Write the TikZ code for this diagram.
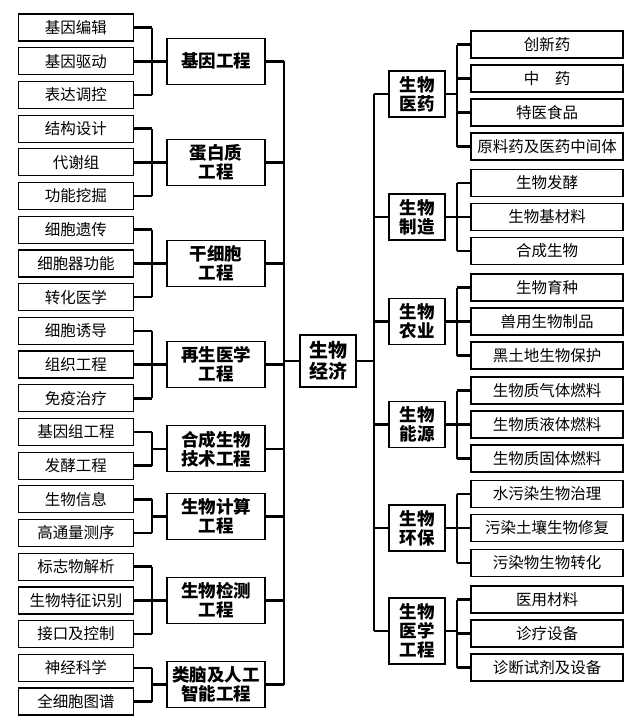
\documentclass[tikz,border=0pt]{standalone}
\usepackage{fontspec}
\setmainfont{Noto Sans CJK SC}
\begin{document}
\begin{tikzpicture}[x=1pt,y=-1pt,
 leafL/.style={draw,line width=1.2pt,minimum width=115pt,minimum height=27pt,inner sep=0pt,font=\fontsize{15.5}{17}\selectfont},
 leafR/.style={draw,line width=1.2pt,minimum width=152pt,minimum height=27pt,inner sep=0pt,font=\fontsize{15.5}{17}\selectfont},
 midL/.style={draw,line width=1.2pt,minimum width=98pt,minimum height=46pt,align=center,inner sep=1pt,font=\bfseries\fontsize{17.5}{19}\selectfont},
 midR/.style={draw,line width=1.2pt,minimum width=56pt,minimum height=46pt,align=center,inner sep=1pt,font=\bfseries\fontsize{17.5}{19}\selectfont},
 link/.style={line width=2.6pt}]
\fill[white] (0,0) rectangle (640,726);
\useasboundingbox (0,0) rectangle (640,726);
% center
\node[midR,minimum height=52pt,font=\bfseries\fontsize{19}{21}\selectfont] (c) at (328,361) {生物\\经济};
% left side
\def\lx{76}
\node[leafL] (l1) at (\lx,27.5) {基因编辑};
\node[leafL] (l2) at (\lx,61.2) {基因驱动};
\node[leafL] (l3) at (\lx,94.9) {表达调控};
\node[leafL] (l4) at (\lx,128.6) {结构设计};
\node[leafL] (l5) at (\lx,162.3) {代谢组};
\node[leafL] (l6) at (\lx,196) {功能挖掘};
\node[leafL] (l7) at (\lx,229.7) {细胞遗传};
\node[leafL] (l8) at (\lx,263.4) {细胞器功能};
\node[leafL] (l9) at (\lx,297.1) {转化医学};
\node[leafL] (l10) at (\lx,330.8) {细胞诱导};
\node[leafL] (l11) at (\lx,364.5) {组织工程};
\node[leafL] (l12) at (\lx,398.2) {免疫治疗};
\node[leafL] (l13) at (\lx,431.9) {基因组工程};
\node[leafL] (l14) at (\lx,465.6) {发酵工程};
\node[leafL] (l15) at (\lx,499.3) {生物信息};
\node[leafL] (l16) at (\lx,533) {高通量测序};
\node[leafL] (l17) at (\lx,566.7) {标志物解析};
\node[leafL] (l18) at (\lx,600.4) {生物特征识别};
\node[leafL] (l19) at (\lx,634.1) {接口及控制};
\node[leafL] (l20) at (\lx,667.8) {神经科学};
\node[leafL] (l21) at (\lx,701.5) {全细胞图谱};
\def\mx{216}
\node[midL] (m1) at (\mx,61.2) {基因工程};
\node[midL] (m2) at (\mx,162.3) {蛋白质\\工程};
\node[midL] (m3) at (\mx,263.4) {干细胞\\工程};
\node[midL] (m4) at (\mx,364.5) {再生医学\\工程};
\node[midL] (m5) at (\mx,448.8) {合成生物\\技术工程};
\node[midL] (m6) at (\mx,516.2) {生物计算\\工程};
\node[midL] (m7) at (\mx,600.4) {生物检测\\工程};
\node[midL] (m8) at (\mx,684.7) {类脑及人工\\智能工程};
\foreach \m/\a/\b in {m1/1/3,m2/4/6,m3/7/9,m4/10/12,m5/13/14,m6/15/16,m7/17/19,m8/20/21}{
  \foreach \i in {\a,...,\b}{\draw[link] (l\i.east) -- (152,0 |- l\i.east);}
  \draw[link] (152,0 |- l\a.east) -- (152,0 |- l\b.east);
  \draw[link] (152,0 |- \m.west) -- (\m.west);
  \draw[link] (\m.east) -- (284,0 |- \m.east);
}
\draw[link] (284,0 |- m1.east) -- (284,0 |- m8.east);
\draw[link] (284,0 |- c.west) -- (c.west);
% right side
\def\rx{547}
\node[leafR] (r1) at (\rx,44.5) {创新药};
\node[leafR] (r2) at (\rx,78.5) {中\quad 药};
\node[leafR] (r3) at (\rx,112.5) {特医食品};
\node[leafR] (r4) at (\rx,146.5) {原料药及医药中间体};
\node[leafR] (r5) at (\rx,183) {生物发酵};
\node[leafR] (r6) at (\rx,217) {生物基材料};
\node[leafR] (r7) at (\rx,251) {合成生物};
\node[leafR] (r8) at (\rx,287.5) {生物育种};
\node[leafR] (r9) at (\rx,321.5) {兽用生物制品};
\node[leafR] (r10) at (\rx,355.5) {黑土地生物保护};
\node[leafR] (r11) at (\rx,390.5) {生物质气体燃料};
\node[leafR] (r12) at (\rx,424.5) {生物质液体燃料};
\node[leafR] (r13) at (\rx,458.5) {生物质固体燃料};
\node[leafR] (r14) at (\rx,494) {水污染生物治理};
\node[leafR] (r15) at (\rx,528) {污染土壤生物修复};
\node[leafR] (r16) at (\rx,563) {污染物生物转化};
\node[leafR] (r17) at (\rx,599.5) {医用材料};
\node[leafR] (r18) at (\rx,633.5) {诊疗设备};
\node[leafR] (r19) at (\rx,667.5) {诊断试剂及设备};
\def\nx{417}
\node[midR] (n1) at (\nx,94) {生物\\医药};
\node[midR] (n2) at (\nx,217) {生物\\制造};
\node[midR] (n3) at (\nx,321.5) {生物\\农业};
\node[midR] (n4) at (\nx,424.5) {生物\\能源};
\node[midR] (n5) at (\nx,528) {生物\\环保};
\node[midR,minimum height=66pt] (n6) at (\nx,631) {生物\\医学\\工程};
\foreach \m/\a/\b in {n1/1/4,n2/5/7,n3/8/10,n4/11/13,n5/14/16,n6/17/19}{
  \foreach \i in {\a,...,\b}{\draw[link] (r\i.west) -- (457,0 |- r\i.west);}
  \draw[link] (457,0 |- r\a.west) -- (457,0 |- r\b.west);
  \draw[link] (\m.east) -- (457,0 |- \m.east);
  \draw[link] (\m.west) -- (374,0 |- \m.west);
}
\draw[link] (374,0 |- n1.west) -- (374,0 |- n6.west);
\draw[link] (c.east) -- (374,0 |- c.east);
\end{tikzpicture}
\end{document}
